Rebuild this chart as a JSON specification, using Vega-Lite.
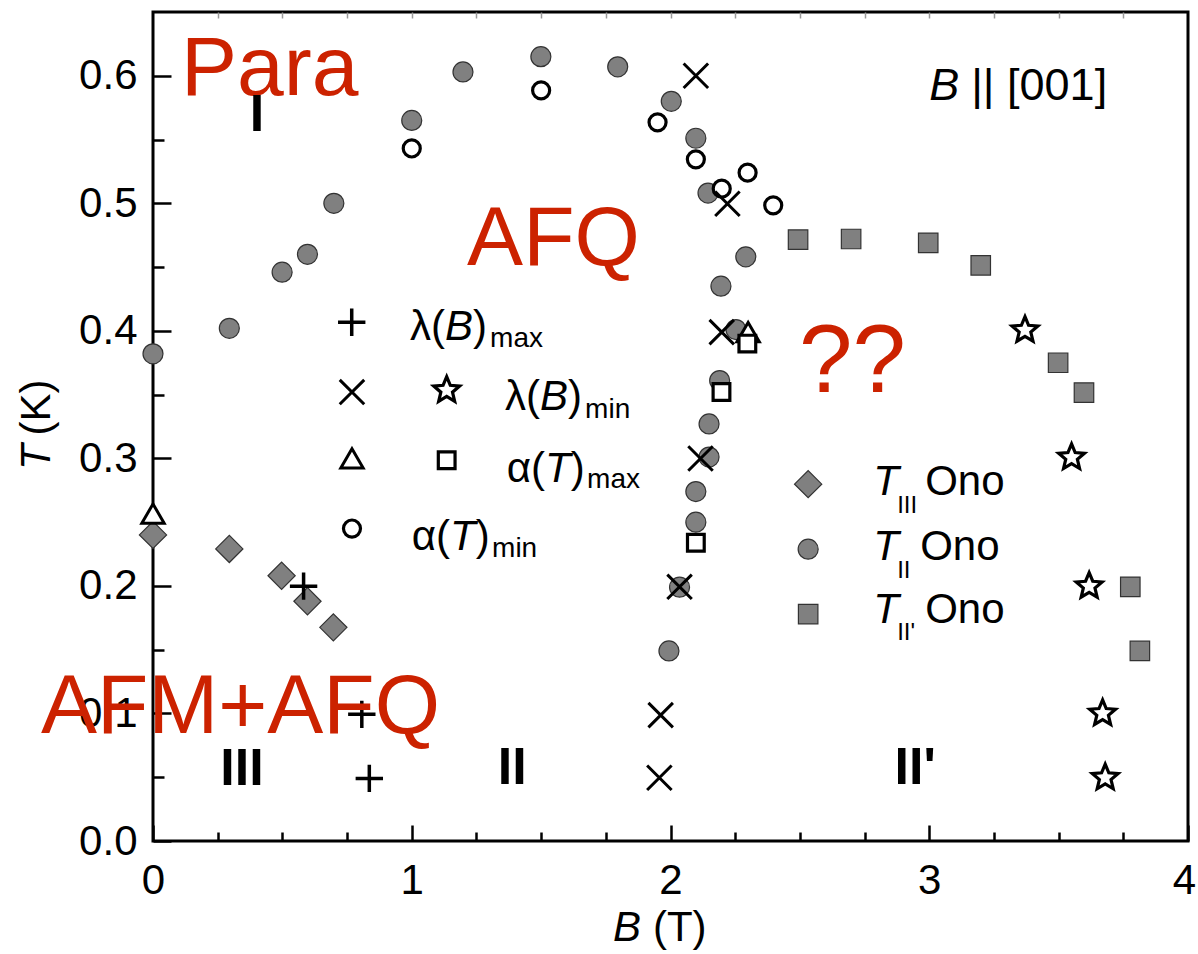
{
  "$schema": "https://vega.github.io/schema/vega-lite/v6.json",
  "width": 1035,
  "height": 829,
  "autosize": "none",
  "padding": {"left": 153, "top": 12, "right": 10, "bottom": 113},
  "background": "white",
  "config": {"view": {"stroke": "black", "strokeWidth": 3}, "font": "Liberation Sans"},
  "datasets": {
    "tII": [
      {"B": 0.0, "T": 0.382}, {"B": 0.295, "T": 0.402}, {"B": 0.499, "T": 0.446}, {"B": 0.597, "T": 0.46},
      {"B": 0.699, "T": 0.5}, {"B": 1.0, "T": 0.565}, {"B": 1.198, "T": 0.603}, {"B": 1.499, "T": 0.615},
      {"B": 1.796, "T": 0.607}, {"B": 2.003, "T": 0.58}, {"B": 2.098, "T": 0.551}, {"B": 2.145, "T": 0.508},
      {"B": 2.291, "T": 0.458}, {"B": 2.195, "T": 0.435}, {"B": 2.253, "T": 0.401}, {"B": 2.19, "T": 0.361},
      {"B": 2.149, "T": 0.327}, {"B": 2.149, "T": 0.301}, {"B": 2.098, "T": 0.274}, {"B": 2.098, "T": 0.25},
      {"B": 2.035, "T": 0.199}, {"B": 1.994, "T": 0.149},
      {"B": 2.532, "T": 0.2288}
    ],
    "tIII": [
      {"B": 0.0, "T": 0.24}, {"B": 0.295, "T": 0.229}, {"B": 0.497, "T": 0.208}, {"B": 0.597, "T": 0.188},
      {"B": 0.697, "T": 0.1675},
      {"B": 2.532, "T": 0.2798}
    ],
    "tIIp": [
      {"B": 2.493, "T": 0.4715}, {"B": 2.698, "T": 0.472}, {"B": 2.996, "T": 0.469}, {"B": 3.199, "T": 0.4514},
      {"B": 3.498, "T": 0.375}, {"B": 3.598, "T": 0.3516}, {"B": 3.777, "T": 0.1993}, {"B": 3.814, "T": 0.149},
      {"B": 2.532, "T": 0.1779}
    ],
    "lmax": [
      {"B": 0.582, "T": 0.1998}, {"B": 0.807, "T": 0.0993}, {"B": 0.836, "T": 0.0491},
      {"B": 0.768, "T": 0.4067}
    ],
    "lminX": [
      {"B": 2.098, "T": 0.6}, {"B": 2.22, "T": 0.4997}, {"B": 2.198, "T": 0.399}, {"B": 2.116, "T": 0.2999},
      {"B": 2.035, "T": 0.1993}, {"B": 1.962, "T": 0.0987}, {"B": 1.957, "T": 0.0496},
      {"B": 0.769, "T": 0.352}
    ],
    "lminStar": [
      {"B": 3.37, "T": 0.4005}, {"B": 3.55, "T": 0.3007}, {"B": 3.618, "T": 0.1998}, {"B": 3.67, "T": 0.1},
      {"B": 3.68, "T": 0.0496},
      {"B": 1.135, "T": 0.3534}
    ],
    "amaxTri": [
      {"B": 0.0, "T": 0.2567}, {"B": 2.3, "T": 0.399},
      {"B": 0.769, "T": 0.3}
    ],
    "amaxSq": [
      {"B": 2.297, "T": 0.39}, {"B": 2.197, "T": 0.352}, {"B": 2.098, "T": 0.2338},
      {"B": 1.135, "T": 0.2986}
    ],
    "amin": [
      {"B": 1.0, "T": 0.543}, {"B": 1.5, "T": 0.5885}, {"B": 1.95, "T": 0.5635}, {"B": 2.098, "T": 0.5345},
      {"B": 2.298, "T": 0.524}, {"B": 2.198, "T": 0.5115}, {"B": 2.397, "T": 0.4984},
      {"B": 0.769, "T": 0.245}
    ],
    "red84": [
      {"B": 0.108, "T": 0.5846, "label": "Para"},
      {"B": 1.214, "T": 0.4514, "label": "AFQ"},
      {"B": -0.433, "T": 0.0846, "label": "AFM+AFQ"}
    ],
    "red96": [
      {"B": 2.497, "T": 0.3519, "label": "??"}
    ],
    "roman": [
      {"B": 0.402, "T": 0.5564, "label": "I"},
      {"B": 0.344, "T": 0.0439, "label": "III"},
      {"B": 1.388, "T": 0.0447, "label": "II"},
      {"B": 2.9455, "T": 0.0447, "label": "II'"}
    ],
    "txt": [
      {"B": 0.9934, "T": 0.3926, "label": "λ("},
      {"B": 1.237, "T": 0.3926, "label": ")"},
      {"B": 1.3607, "T": 0.3378, "label": "λ("},
      {"B": 1.6042, "T": 0.3378, "label": ")"},
      {"B": 1.3673, "T": 0.2816, "label": "α("},
      {"B": 1.6146, "T": 0.2816, "label": ")"},
      {"B": 1.0, "T": 0.2281, "label": "α("},
      {"B": 1.2474, "T": 0.2281, "label": ")"},
      {"B": 2.9842, "T": 0.2712, "label": "Ono"},
      {"B": 2.9648, "T": 0.2202, "label": "Ono"},
      {"B": 2.9842, "T": 0.1708, "label": "Ono"},
      {"B": 1.932, "T": -0.0784, "label": "(T)"}
    ],
    "ital": [
      {"B": 1.1287, "T": 0.3926, "label": "B"},
      {"B": 1.496, "T": 0.3378, "label": "B"},
      {"B": 1.5153, "T": 0.2816, "label": "T"},
      {"B": 1.148, "T": 0.2281, "label": "T"},
      {"B": 2.7832, "T": 0.2712, "label": "T"},
      {"B": 2.7832, "T": 0.2202, "label": "T"},
      {"B": 2.7832, "T": 0.1708, "label": "T"},
      {"B": 1.778, "T": -0.0784, "label": "B"}
    ],
    "dirB": [{"B": 3.0, "T": 0.5807, "label": "B"}],
    "dirTxt": [{"B": 3.162, "T": 0.5807, "label": "|| [001]"}],
    "sub28": [
      {"B": 1.3027, "T": 0.3871, "label": "max"},
      {"B": 1.6699, "T": 0.3315, "label": "min"},
      {"B": 1.6776, "T": 0.2766, "label": "max"},
      {"B": 1.3104, "T": 0.2228, "label": "min"}
    ],
    "sub24": [
      {"B": 2.876, "T": 0.2571, "label": "III"},
      {"B": 2.876, "T": 0.2061, "label": "II"},
      {"B": 2.876, "T": 0.1575, "label": "II'"}
    ],
    "ytitleT": [{"B": -0.398, "T": 0.2908, "label": "T"}],
    "ytitleK": [{"B": -0.398, "T": 0.318, "label": "(K)"}]
  },
  "layer": [
    {
      "encoding": {
        "x": {
          "field": "B", "type": "quantitative",
          "scale": {"domain": [0, 4], "nice": false, "zero": false},
          "axis": {
            "orient": "bottom", "title": null, "grid": false, "domain": false,
            "values": [0, 0.25, 0.5, 0.75, 1, 1.25, 1.5, 1.75, 2, 2.25, 2.5, 2.75, 3, 3.25, 3.5, 3.75, 4],
            "labelExpr": "datum.value % 1 === 0 ? format(datum.value, 'd') : ''",
            "tickSize": {"condition": {"test": "datum.value % 1 === 0", "value": -16}, "value": -9},
            "labelOffset": {"condition": {"test": "datum.value === 4", "value": -4}, "value": 0},
            "tickWidth": 2.5, "tickColor": "black",
            "labelFont": "Liberation Sans", "labelFontSize": 42, "labelColor": "black",
            "labelPadding": 35, "labelFlush": false, "labelOverlap": false, "labelBound": false
          }
        },
        "y": {
          "field": "T", "type": "quantitative",
          "scale": {"domain": [0, 0.65], "nice": false, "zero": false},
          "axis": {
            "orient": "left", "title": null, "grid": false, "domain": false,
            "values": [0, 0.05, 0.1, 0.15, 0.2, 0.25, 0.3, 0.35, 0.4, 0.45, 0.5, 0.55, 0.6],
            "labelExpr": "abs(datum.value * 10 - round(datum.value * 10)) < 0.001 ? format(datum.value, '.1f') : ''",
            "tickSize": {"condition": {"test": "abs(datum.value * 10 - round(datum.value * 10)) < 0.001", "value": -18}, "value": -11},
            "tickWidth": 2.5, "tickColor": "black",
            "labelFont": "Liberation Sans", "labelFontSize": 42, "labelColor": "black",
            "labelPadding": 34, "labelFlush": false, "labelOverlap": false, "labelBound": false
          }
        }
      },
      "layer": [
        {"data": {"name": "tII"}, "mark": {"type": "point", "shape": "circle", "size": 400, "filled": true, "fill": "#808080", "stroke": "#333333", "strokeWidth": 1.2, "opacity": 1}},
        {"data": {"name": "tIII"}, "mark": {"type": "point", "shape": "diamond", "size": 740, "filled": true, "fill": "#808080", "stroke": "#333333", "strokeWidth": 1.2, "opacity": 1}},
        {"data": {"name": "tIIp"}, "mark": {"type": "point", "shape": "square", "size": 380, "filled": true, "fill": "#808080", "stroke": "#333333", "strokeWidth": 1.2, "opacity": 1}},
        {"data": {"name": "amin"}, "mark": {"type": "point", "shape": "circle", "size": 290, "filled": true, "fill": "white", "stroke": "black", "strokeWidth": 3.2, "opacity": 1}},
        {"data": {"name": "lminX"}, "mark": {"type": "point", "shape": "M -1 -1 L 1 1 M -1 1 L 1 -1", "size": 600, "filled": false, "stroke": "black", "strokeWidth": 3, "opacity": 1}},
        {"data": {"name": "amaxTri"}, "mark": {"type": "point", "shape": "triangle-up", "size": 500, "filled": true, "fill": "white", "stroke": "black", "strokeWidth": 3, "opacity": 1}},
        {"data": {"name": "amaxSq"}, "mark": {"type": "point", "shape": "square", "size": 280, "filled": true, "fill": "white", "stroke": "black", "strokeWidth": 3.2, "opacity": 1}},
        {"data": {"name": "lminStar"}, "mark": {"type": "point", "shape": "M 0 -1 L 0.265 -0.364 L 0.951 -0.309 L 0.428 0.139 L 0.588 0.809 L 0 0.45 L -0.588 0.809 L -0.428 0.139 L -0.951 -0.309 L -0.265 -0.364 Z", "size": 740, "filled": true, "fill": "white", "stroke": "black", "strokeWidth": 3.2, "opacity": 1}},
        {"data": {"name": "lmax"}, "mark": {"type": "point", "shape": "M -1 0 L 1 0 M 0 -1 L 0 1", "size": 750, "filled": false, "stroke": "black", "strokeWidth": 3.5, "opacity": 1}},
        {"data": {"name": "red84"}, "mark": {"type": "text", "align": "left", "baseline": "alphabetic", "font": "Liberation Sans", "fontSize": 84, "color": "#cc2200"}, "encoding": {"text": {"field": "label"}}},
        {"data": {"name": "red96"}, "mark": {"type": "text", "align": "left", "baseline": "alphabetic", "font": "Liberation Sans", "fontSize": 96, "color": "#cc2200"}, "encoding": {"text": {"field": "label"}}},
        {"data": {"name": "roman"}, "mark": {"type": "text", "align": "center", "baseline": "alphabetic", "font": "Liberation Sans", "fontSize": 52, "fontWeight": "bold", "color": "black"}, "encoding": {"text": {"field": "label"}}},
        {"data": {"name": "txt"}, "mark": {"type": "text", "align": "left", "baseline": "alphabetic", "font": "Liberation Sans", "fontSize": 42, "color": "black"}, "encoding": {"text": {"field": "label"}}},
        {"data": {"name": "ital"}, "mark": {"type": "text", "align": "left", "baseline": "alphabetic", "font": "Liberation Sans", "fontSize": 42, "fontStyle": "italic", "color": "black"}, "encoding": {"text": {"field": "label"}}},
        {"data": {"name": "dirB"}, "mark": {"type": "text", "align": "left", "baseline": "alphabetic", "font": "Liberation Sans", "fontSize": 45, "fontStyle": "italic", "color": "black"}, "encoding": {"text": {"field": "label"}}},
        {"data": {"name": "dirTxt"}, "mark": {"type": "text", "align": "left", "baseline": "alphabetic", "font": "Liberation Sans", "fontSize": 45, "color": "black"}, "encoding": {"text": {"field": "label"}}},
        {"data": {"name": "sub28"}, "mark": {"type": "text", "align": "left", "baseline": "alphabetic", "font": "Liberation Sans", "fontSize": 28, "color": "black"}, "encoding": {"text": {"field": "label"}}},
        {"data": {"name": "sub24"}, "mark": {"type": "text", "align": "left", "baseline": "alphabetic", "font": "Liberation Sans", "fontSize": 24, "color": "black"}, "encoding": {"text": {"field": "label"}}},
        {"data": {"name": "ytitleT"}, "mark": {"type": "text", "align": "left", "baseline": "alphabetic", "angle": 270, "font": "Liberation Sans", "fontSize": 42, "fontStyle": "italic", "color": "black"}, "encoding": {"text": {"field": "label"}}},
        {"data": {"name": "ytitleK"}, "mark": {"type": "text", "align": "left", "baseline": "alphabetic", "angle": 270, "font": "Liberation Sans", "fontSize": 42, "color": "black"}, "encoding": {"text": {"field": "label"}}}
      ]
    },
    {
      "data": {"name": "tIIp"},
      "mark": {"type": "point", "opacity": 0},
      "encoding": {
        "x": {
          "field": "B", "type": "quantitative",
          "scale": {"domain": [0, 4], "nice": false, "zero": false},
          "axis": {
            "orient": "top", "title": null, "grid": false, "domain": false, "labels": false,
            "values": [0.25, 0.5, 0.75, 1, 1.25, 1.5, 1.75, 2, 2.25, 2.5, 2.75, 3, 3.25, 3.5, 3.75],
            "tickSize": -6, "tickWidth": 1.5, "tickColor": "#999999"
          }
        }
      }
    }
  ],
  "resolve": {"axis": {"x": "independent"}}
}
